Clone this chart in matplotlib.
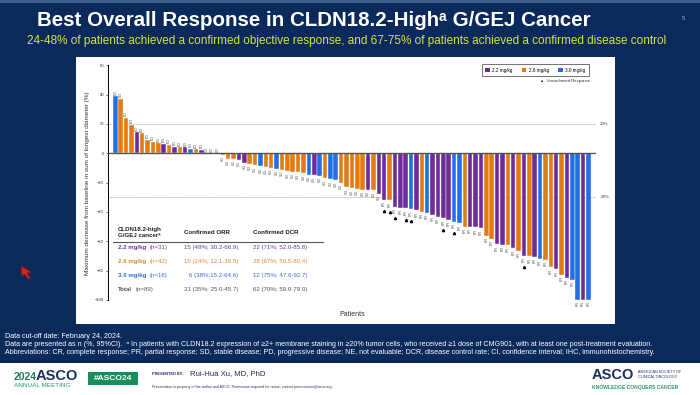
import matplotlib
matplotlib.use('Agg')
import matplotlib.pyplot as plt
from matplotlib.patches import Rectangle, Polygon, Patch
from matplotlib.lines import Line2D

W, H = 700, 395

# best % change from baseline, waterfall order (patients 1..89)
change = [39.1, 37.2, 24.3, 19.5, 14.5, 13.6, 9.3, 8.0, 6.8, 6.4,
          5.7, 4.5, 4.3, 4.3, 3.0, 2.7, 2.3, 0, 0, 0,
          -1.0, -3.9, -3.9, -4.3, -6.5, -7.4, -8.2, -9.0, -9.5, -10.0,
          -10.5, -11.5, -12.2, -12.8, -13.0, -13.6, -14.5, -15.0, -15.5, -17.0,
          -17.8, -18.5, -20.0, -23.2, -23.9, -24.4, -24.8, -25.0, -25.3, -27.7,
          -31.8, -32.0, -36.4, -37.0, -37.5, -38.2, -38.8, -39.8, -40.4, -42.0,
          -43.2, -44.3, -45.5, -46.6, -47.7, -50.0, -50.2, -50.5, -51.1, -56.4,
          -58.2, -62.0, -62.5, -62.7, -64.8, -66.6, -70.0, -70.2, -70.5, -72.0,
          -72.7, -77.7, -79.0, -83.0, -84.8, -86.4, -100, -100, -100]

# dose group per patient: P = 2.2 mg/kg, O = 2.6 mg/kg, B = 3.0 mg/kg
dose = ("BOOOPOOOOP" "OPOPBOPOOP" "OOOPPOOBOO" "BOOOOOBPBO" "BBOOOOOPOP"
        "POPPPBPOBP" "PPPBBOPPPO" "OPPOPOPOPB" "OOPOPBBPB")

unconfirmed = [51, 52, 53, 55, 56, 62, 64, 77]  # patient numbers

dose_names = ["2.2 mg/kg", "2.6 mg/kg", "3.0 mg/kg"]
dose_colors = {"P": "#6E2C9A", "O": "#E47A12", "B": "#1F6FEA"}
text_colors = ["#6E3A96", "#D98A2E", "#2F70D8", "#555555"]

tbl_group = ["2.2 mg/kg", "2.6 mg/kg", "3.0 mg/kg", "Total"]
tbl_n = ["(n=31)", "(n=42)", "(n=16)", "(n=89)"]
tbl_orr = ["15 (48%; 30.2-66.9)", "10 (24%; 12.1-39.5)", "6 (38%;15.2-64.6)", "31 (35%; 25.0-45.7)"]
tbl_dcr = ["22 (71%; 52.0-85.8)", "28 (67%; 50.5-80.4)", "12 (75%; 47.6-92.7)", "62 (70%; 59.0-79.0)"]

NAVY = "#0B2A5C"
FONT = ["Liberation Sans", "DejaVu Sans"]
plt.rcParams["font.family"] = FONT

fig = plt.figure(figsize=(W / 100, H / 100), dpi=100)
fig.patch.set_facecolor(NAVY)


def px(x, y):
    return x / W, 1 - y / H


def ftext(x, y, s, **kw):
    fig.text(x / W, 1 - y / H, s, **kw)


def frect(x0, y0, x1, y1, **kw):
    fig.patches.append(Rectangle(px(x0, y1), (x1 - x0) / W, (y1 - y0) / H,
                                 transform=fig.transFigure, zorder=-1, **kw))


# header
frect(0, 0, 700, 3, color="#3B5E8E", lw=0)
ftext(37, 21, "Best Overall Response in CLDN18.2-High\u1d43 G/GEJ Cancer", color="white",
      fontsize=14.8, fontweight="bold", va="center", ha="left")
ftext(27, 41, "24-48% of patients achieved a confirmed objective response, and 67-75% of patients "
      "achieved a confirmed disease control", color="#D6E04C", fontsize=8.5, va="center", ha="left")
ftext(682, 19, "5", color="#B8C4D8", fontsize=4, va="center")

# white chart panel
frect(76, 57, 615, 324, color="white", lw=0)

# axes geometry (pixels)
x0, dx = 115.3, 5.377
y0, dy = 153.3, 1.466
ylo, yhi = -101, 61
ax_left, ax_right = 108, 596
ax_top, ax_bot = y0 - yhi * dy, y0 - ylo * dy
ax = fig.add_axes([ax_left / W, 1 - ax_bot / H, (ax_right - ax_left) / W, (ax_bot - ax_top) / H])
ax.set_zorder(2)
ax.set_facecolor("none")
ax.set_xlim((ax_left - x0) / dx, (ax_right - x0) / dx)
ax.set_ylim(ylo, yhi)

idx = list(range(len(change)))
cols = [dose_colors[d] for d in dose]
ax.bar(idx, change, width=0.84, color=cols, edgecolor="white", linewidth=0.3, zorder=2)

for i, v in enumerate(change):
    if v >= 0:
        lab = "PD"
        ax.text(i, v + 1.0, lab, rotation=90, fontsize=2.6, color="#444", ha="center", va="bottom")
    else:
        lab = "SD" if v > -30 else "PR"
        ax.text(i, v - 1.0, lab, rotation=90, fontsize=2.6, color="#444", ha="center", va="top")

ax.plot([p - 1 for p in unconfirmed], [change[p - 1] - 7.8 for p in unconfirmed],
        linestyle="none", marker="^", markersize=1.6, color="black", zorder=3)

ax.axhline(0, color="#555", lw=1.0, zorder=3)
for ref, lab in [(20, "20%"), (-30, "-30%")]:
    ax.axhline(ref, color="#777", lw=0.5, ls=(0, (1, 1.2)), zorder=1)
    ax.text(1.008, ref, lab, transform=ax.get_yaxis_transform(), fontsize=3.2,
            color="#333", va="center", ha="left")

for s in ["top", "right", "bottom"]:
    ax.spines[s].set_visible(False)
ax.spines["left"].set_linewidth(0.7)
ax.spines["left"].set_bounds(-100, 60)
ax.set_yticks(range(-100, 61, 20))
ax.tick_params(axis="y", labelsize=3.0, length=1.8, width=0.5, pad=1, colors="#333")
ax.set_xticks([])

ftext(87, 183, "Maximum decrease from baseline in sum of longest diameter (%)", rotation=90,
      fontsize=4.6, color="#333", ha="center", va="center")
ftext(352, 315, "Patients", fontsize=5, color="#333", ha="center", va="center")

# legend
handles = [Patch(facecolor=dose_colors[c], edgecolor="none") for c in "POB"]
leg = ax.legend(handles, dose_names, ncol=3, fontsize=3.3, loc="upper right",
                bbox_to_anchor=px(591, 62), bbox_transform=fig.transFigure,
                handlelength=1.0, handleheight=1.0, handletextpad=0.6, columnspacing=1.9,
                borderpad=0.7, frameon=True, fancybox=False)
leg.get_frame().set_edgecolor("#333")
leg.get_frame().set_linewidth(0.6)
ftext(590, 81, "\u25b2  Unconfirmed Response", fontsize=3.1, color="#333", ha="right", va="center")

# summary table
ftext(118, 229, "CLDN18.2-high", fontsize=4.4, fontweight="bold", color="#222", va="center")
ftext(118, 235.5, "G/GEJ cancer\u1d43", fontsize=4.4, fontweight="bold", color="#222", va="center")
ftext(184, 232.5, "Confirmed ORR", fontsize=4.4, fontweight="bold", color="#222", va="center")
ftext(253, 232.5, "Confirmed DCR", fontsize=4.4, fontweight="bold", color="#222", va="center")
fig.add_artist(Line2D([113 / W, 323 / W], [1 - 242.3 / H] * 2, color="#555", lw=0.8, zorder=3))
row_y = [247.7, 261.7, 275.7, 289.3]
n_x = [150, 150, 150, 136]
for k in range(4):
    c = text_colors[k]
    ftext(118, row_y[k], tbl_group[k], fontsize=4.4, fontweight="bold", color=c, va="center")
    ftext(n_x[k], row_y[k], tbl_n[k], fontsize=4.4, color=c, va="center")
    ftext(184 if k != 2 else 189, row_y[k], tbl_orr[k], fontsize=4.4, color=c, va="center")
    ftext(253, row_y[k], tbl_dcr[k], fontsize=4.4, color=c, va="center")

# footnotes
foot = ["Data cut-off date: February 24, 2024.",
        "Data are presented as n (%, 95%CI).  \u1d43 In patients with CLDN18.2 expression of \u22652+ membrane "
        "staining in \u226520% tumor cells, who received \u22651 dose of CMG901, with at least one post-treatment evaluation.",
        "Abbreviations: CR, complete response; PR, partial response; SD, stable disease; PD, progressive disease; "
        "NE, not evaluable; DCR, disease control rate; CI, confidence interval; IHC, immunohistochemistry."]
for k, line in enumerate(foot):
    ftext(5, 337 + 8 * k, line, fontsize=5.15, color="white", va="center")

# bottom banner
frect(0, 363, 700, 395, color="white", lw=0)
ftext(14, 377, "2024", fontsize=7.5, fontweight="bold", color="#1D7F5E", va="center")
ftext(36, 376.5, "ASCO", fontsize=10.5, fontweight="bold", color="#1B2F5E", va="center")
ftext(14, 385.5, "ANNUAL MEETING", fontsize=4.6, color="#2A9A72", va="center")
frect(88, 372, 138, 385, color="#1B8C5C", lw=0)
ftext(113, 378.5, "#ASCO24", fontsize=6, fontweight="bold", color="white", va="center", ha="center")
ftext(152, 374, "PRESENTED BY:", fontsize=2.8, fontweight="bold", color="#1B2F5E", va="center")
ftext(190, 373.5, "Rui-Hua Xu, MD, PhD", fontsize=5.6, color="#1B2F5E", va="center")
ftext(152, 387, "Presentation is property of the author and ASCO. Permission required for reuse; contact "
      "permissions@asco.org.", fontsize=2.6, color="#1B2F5E", va="center")
ftext(592, 375, "ASCO", fontsize=10.5, fontweight="bold", color="#1B2F5E", va="center")
ftext(638, 372, "AMERICAN SOCIETY OF", fontsize=2.7, color="#1B2F5E", va="center")
ftext(638, 377, "CLINICAL ONCOLOGY", fontsize=2.7, color="#1B2F5E", va="center")
ftext(592, 387, "KNOWLEDGE CONQUERS CANCER", fontsize=3.6, fontweight="bold", color="#2A9A72", va="center")

# mouse pointer on the slide
fig.patches.append(Polygon([px(21, 266), px(31, 272), px(27, 273), px(30, 278), px(28, 279),
                            px(25, 274), px(22, 276)], closed=True, transform=fig.transFigure,
                           facecolor="#E0201B", edgecolor="#901010", lw=0.3))

fig.savefig("out.png", dpi=100, facecolor=fig.get_facecolor())
